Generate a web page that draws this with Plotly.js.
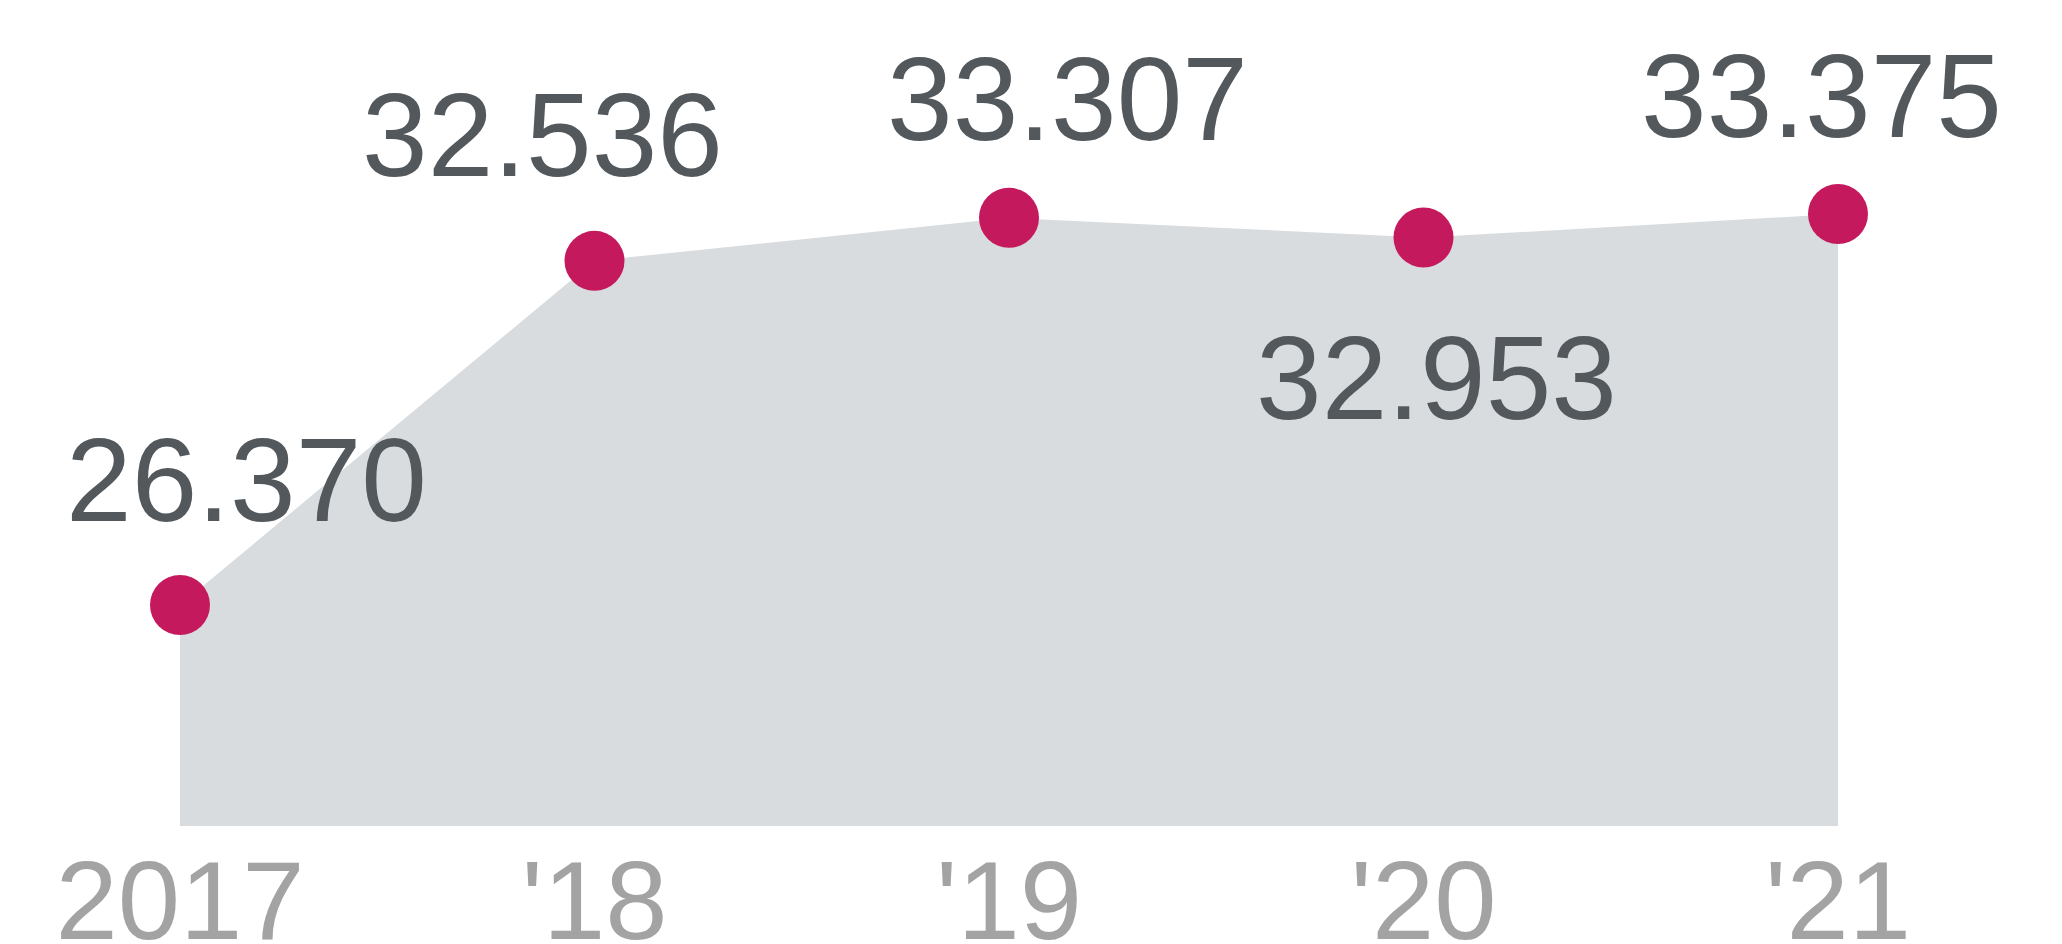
<!DOCTYPE html>
<html>
<head>
<meta charset="utf-8">
<script src="https://cdn.plot.ly/plotly-3.0.1.min.js"></script>
<style>html,body{margin:0;padding:0;background:#fff;}#chart{width:2062px;height:944px;}</style>
</head>
<body>
<div id="chart"></div>
<script>
const categories = ["2017", "2018", "2019", "2020", "2021"];
const tickLabels = ["2017", "'18", "'19", "'20", "'21"];
const values = [26.370, 32.536, 33.307, 32.953, 33.375];
const valueLabels = ["26.370", "32.536", "33.307", "32.953", "33.375"];

// label offsets (px) relative to each point
const labelShiftX = [66, -52, 58, 13, -17];
const labelShiftY = [125, 126, 119, -140, 118];

const areaTrace = {
  x: categories, y: values, type: 'scatter', mode: 'lines',
  fill: 'tozeroy', fillcolor: '#d9dcdf',
  line: {width: 0, color: '#d9dcdf'}, hoverinfo: 'skip', showlegend: false
};
const markerTrace = {
  x: categories, y: values, type: 'scatter', mode: 'markers',
  marker: {size: 60, color: '#c5195e', line: {width: 0}},
  cliponaxis: false, showlegend: false
};

// category axis: annotation x given as the category index
const annotations = values.map((v, i) => ({
  x: i, y: v, xref: 'x', yref: 'y', text: valueLabels[i],
  showarrow: false, xshift: labelShiftX[i], yshift: labelShiftY[i],
  xanchor: 'center', yanchor: 'middle',
  font: {family: 'Liberation Sans, Arial, sans-serif', size: 118, color: '#53585c'}
}));

const layout = {
  width: 2062, height: 944,
  margin: {l: 180, r: 224, t: 0, b: 118, pad: 0},
  paper_bgcolor: '#ffffff', plot_bgcolor: '#ffffff',
  showlegend: false,
  xaxis: {
    type: 'category', range: [0, 4], tickvals: categories, ticktext: tickLabels,
    showgrid: false, zeroline: false, showline: false, ticks: '',
    ticklabelstandoff: 0,
    tickfont: {family: 'Liberation Sans, Arial, sans-serif', size: 112, color: '#a3a3a3'},
    fixedrange: true
  },
  yaxis: {
    range: [22.41, 37.21], visible: false, showgrid: false, zeroline: false, fixedrange: true
  },
  annotations: annotations
};

Plotly.newPlot('chart', [areaTrace, markerTrace], layout, {displayModeBar: false, staticPlot: true});
</script>
</body>
</html>
